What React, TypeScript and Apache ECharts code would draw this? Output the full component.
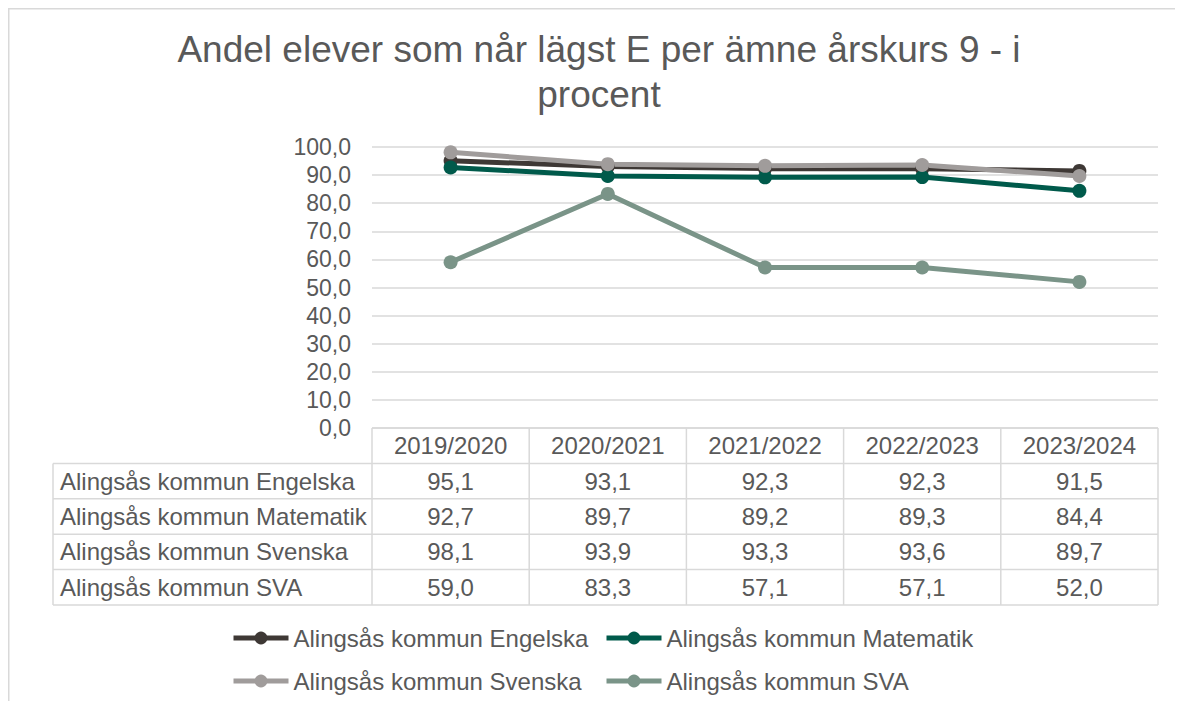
import React, { useEffect, useRef } from 'react';
import * as echarts from 'echarts';

const titleText = 'Andel elever som når lägst E per ämne årskurs 9 - i\nprocent';
const categories = ['2019/2020', '2020/2021', '2021/2022', '2022/2023', '2023/2024'];
const seriesNames = [
  'Alingsås kommun Engelska',
  'Alingsås kommun Matematik',
  'Alingsås kommun Svenska',
  'Alingsås kommun SVA',
];
const engelska = [95.1, 93.1, 92.3, 92.3, 91.5];
const matematik = [92.7, 89.7, 89.2, 89.3, 84.4];
const svenska = [98.1, 93.9, 93.3, 93.6, 89.7];
const sva = [59.0, 83.3, 57.1, 57.1, 52.0];
const seriesValues = [engelska, matematik, svenska, sva];
const colors = ['#3E3835', '#005A4B', '#A09C9B', '#7A9488'];

const FONT = '"Liberation Sans", Arial, sans-serif';
const TXT = '#595959';
const BORDER = '#D9D9D9';

const fmt = (v: number) => v.toFixed(1).replace('.', ',');

export default function App() {
  const ref = useRef<HTMLDivElement>(null);
  useEffect(() => {
    if (!ref.current) return;
    const chart = echarts.init(ref.current, undefined, { renderer: 'svg' });
    const legendBase = {
      itemWidth: 55,
      itemHeight: 16,
      padding: 0,
      lineStyle: { width: 5 },
      textStyle: { fontSize: 24, color: TXT, fontFamily: FONT },
    };
    const legendLefts = [223, 596, 223, 596];
    const legendTops = [618, 618, 661, 661];
    chart.setOption({
      animation: false,
      title: {
        text: titleText,
        left: 591,
        top: 19,
        padding: 0,
        textAlign: 'center',
        textStyle: { fontSize: 37, fontWeight: 'normal', color: TXT, fontFamily: FONT, lineHeight: 45 },
      },
      legend: seriesNames.map((n, i) => ({
        ...legendBase,
        left: legendLefts[i],
        top: legendTops[i],
        data: [n],
      })),
      grid: { left: 364, right: 17, top: 139, bottom: 273, containLabel: false },
      xAxis: {
        type: 'category',
        data: categories,
        boundaryGap: true,
        axisLine: { show: false },
        axisTick: { show: false },
        axisLabel: { show: false },
      },
      yAxis: {
        type: 'value',
        min: 0,
        max: 100,
        interval: 10,
        axisLine: { show: false },
        axisTick: { show: false },
        axisLabel: { formatter: (v: number) => fmt(v), fontSize: 23, color: TXT, fontFamily: FONT, margin: 21 },
        splitLine: { lineStyle: { color: BORDER, width: 1.5 } },
      },
      series: seriesNames.map((name, i) => ({
        name,
        type: 'line',
        data: seriesValues[i],
        symbol: 'circle',
        symbolSize: 14,
        lineStyle: { width: 5, color: colors[i] },
        itemStyle: { color: colors[i] },
      })),
    });

    const xs = categories.map((c) => chart.convertToPixel({ xAxisIndex: 0 }, c) as number);
    const band = xs[1] - xs[0];
    const gLeft = xs[0] - band / 2;
    const gRight = xs[xs.length - 1] + band / 2;
    const y0 = chart.convertToPixel({ yAxisIndex: 0 }, 0) as number;
    const rowH = 35.4;
    const tLeft = 45;
    const nRows = seriesNames.length;
    const bottom = y0 + rowH * (nRows + 1);
    const els: any[] = [];
    const line = (x1: number, y1: number, x2: number, y2: number) =>
      els.push({ type: 'line', shape: { x1, y1, x2, y2 }, style: { stroke: BORDER, lineWidth: 1.5 } });
    line(gLeft, y0, gRight, y0);
    for (let k = 1; k <= nRows + 1; k++) line(tLeft, y0 + rowH * k, gRight, y0 + rowH * k);
    for (let j = 0; j <= categories.length; j++) line(gLeft + band * j, y0, gLeft + band * j, bottom);
    line(tLeft, y0 + rowH, tLeft, bottom);
    const text = (t: string, x: number, y: number, align: string) =>
      els.push({
        type: 'text',
        x,
        y,
        style: { text: t, fill: TXT, fontSize: 24, fontFamily: FONT, align, verticalAlign: 'middle' },
      });
    categories.forEach((c, j) => text(c, xs[j], y0 + rowH / 2, 'center'));
    seriesNames.forEach((n, i) => {
      const cy = y0 + rowH * (i + 1) + rowH / 2;
      text(n, tLeft + 7, cy, 'left');
      seriesValues[i].forEach((v, j) => text(fmt(v), xs[j], cy, 'center'));
    });
    els.push({
      type: 'rect',
      shape: { x: 0.75, y: 0.75, width: 1400, height: 900 },
      style: { fill: 'none', stroke: BORDER, lineWidth: 1.5 },
      z: -1,
    });
    chart.setOption({ graphic: els });
    return () => chart.dispose();
  }, []);
  return <div ref={ref} style={{ width: 1167, height: 693 }} />;
}
